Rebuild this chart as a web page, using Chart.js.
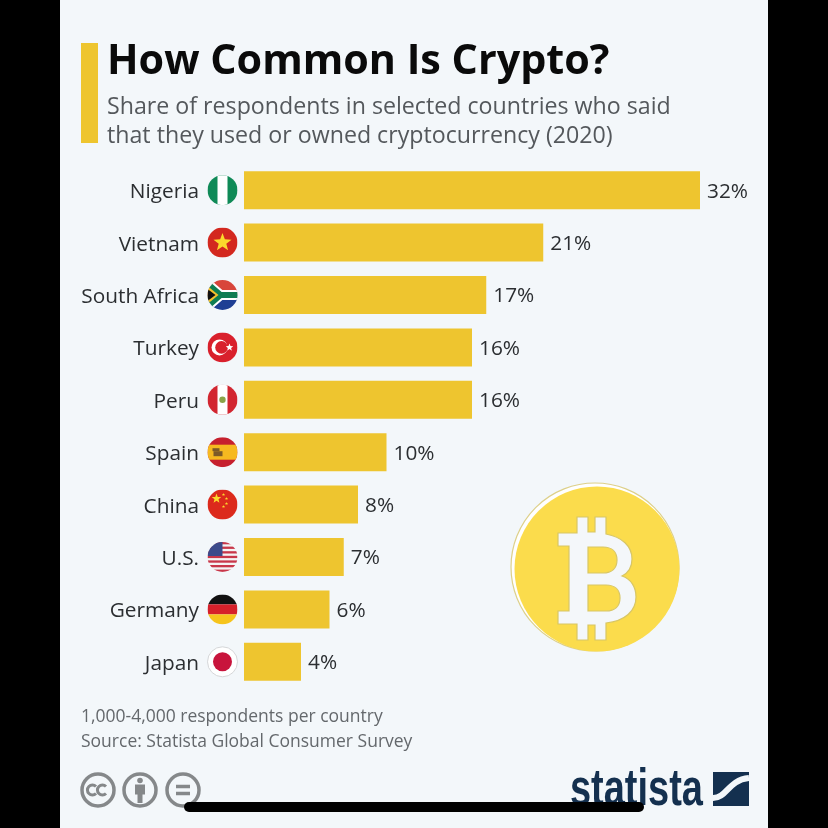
<!DOCTYPE html>
<html>
<head>
<meta charset="utf-8">
<title>How Common Is Crypto?</title>
<script src="https://cdn.jsdelivr.net/npm/chart.js@4"></script>
<style>
html, body { margin: 0; padding: 0; background: #000; }
body { width: 828px; height: 828px; position: relative; overflow: hidden; font-family: "Open Sans", sans-serif; }
#panel { position: absolute; left: 60px; top: 0; width: 708px; height: 828px; background: #f3f7fa; }
#myChart { position: absolute; left: 0; top: 0; }
.txt { position: absolute; white-space: nowrap; }
#accent { position: absolute; left: 81px; top: 43px; width: 17px; height: 100px; background: #eec52f; }
#title { left: 107px; top: 31px; font-size: 41.3px; font-weight: 700; color: #0a0a0a; line-height: 54px; }
#sub1, #sub2 { left: 107px; font-size: 23.2px; color: #54585c; line-height: 30px; }
#sub1 { top: 90px; }
#sub2 { top: 119px; }
#note, #source { left: 81px; font-size: 17.5px; color: #64686c; line-height: 24px; }
#note { top: 703px; }
#source { top: 728px; }
#logo { left: 570px; top: 759px; font-family: "Liberation Sans", sans-serif; font-size: 52px; font-weight: 700; color: #14304f; line-height: 56px; transform: scaleX(0.73); transform-origin: left center; }
svg { position: absolute; }
#homebar { position: absolute; left: 184px; top: 802px; width: 460px; height: 10px; border-radius: 5px; background: #000; }
</style>
</head>
<body>
<div id="panel"></div>
<canvas id="myChart" width="828" height="828"></canvas>
<div id="accent"></div>
<div class="txt" id="title">How Common Is Crypto?</div>
<div class="txt" id="sub1">Share of respondents in selected countries who said</div>
<div class="txt" id="sub2">that they used or owned cryptocurrency (2020)</div>
<div class="txt" id="note">1,000-4,000 respondents per country</div>
<div class="txt" id="source">Source: Statista Global Consumer Survey</div>

<!-- bitcoin coin -->
<svg style="left:500px;top:475px" width="190" height="190" viewBox="0 0 190 190">
  <circle cx="95" cy="92" r="84" fill="#ffffff" stroke="#ddd08a" stroke-width="1.2"/>
  <circle cx="97" cy="94" r="82.5" fill="#fbdc4c"/>
  <path fill="#f4f7fa" stroke="#d8c665" stroke-width="1.2" fill-rule="evenodd"
    d="M 77 58 V 42 H 88 V 57 H 95 V 42 H 106 V 59 C 122 62 132 71 132 84 C 132 92 128 98 122 101 C 131 104 136 112 136 122 C 136 136 125 146 106 148 V 165 H 95 V 150 H 88 V 165 H 77 V 149 H 58 V 136 H 69 V 71 H 58 V 58 Z
       M 88 72 V 98 H 103 C 112 98 117 93 117 85 C 117 77 112 72 103 72 Z
       M 88 110 V 136 H 106 C 115 136 120 131 120 123 C 120 115 115 110 106 110 Z"/>
</svg>

<!-- licence icons -->
<svg style="left:78px;top:770px" width="128" height="42" viewBox="0 0 128 42" fill="none" stroke="#85888a">
  <circle cx="20" cy="20" r="16" stroke-width="3.5"/>
  <path d="M 18 16.5 A 5 5 0 1 0 18 23.5 M 28 16.5 A 5 5 0 1 0 28 23.5" stroke-width="3"/>
  <circle cx="62" cy="20" r="16" stroke-width="3.5"/>
  <circle cx="62" cy="10.5" r="2.8" fill="#85888a" stroke="none"/>
  <rect x="57" y="14.5" width="10" height="10" fill="#85888a" stroke="none"/>
  <rect x="59.5" y="24" width="5" height="9" fill="#85888a" stroke="none"/>
  <circle cx="105" cy="20" r="16" stroke-width="3.5"/>
  <path d="M 98 16.5 H 112 M 98 23.5 H 112" stroke-width="3.5"/>
</svg>

<div class="txt" id="logo">statista</div>
<svg style="left:713px;top:772px" width="36" height="34" viewBox="0 0 36 34">
  <rect width="36" height="34" fill="#14304f"/>
  <path d="M 0 26 C 14 26 15 8 36 6" fill="none" stroke="#f3f7fa" stroke-width="6"/>
</svg>

<div id="homebar"></div>

<script>
var categories = ["Nigeria", "Vietnam", "South Africa", "Turkey", "Peru", "Spain", "China", "U.S.", "Germany", "Japan"];
var shares = [32, 21, 17, 16, 16, 10, 8, 7, 6, 4];
var flagCodes = ["ng", "vn", "za", "tr", "pe", "es", "cn", "us", "de", "jp"];

function star(ctx, x, y, r, color) {
    ctx.fillStyle = color;
    ctx.beginPath();
    for (var i = 0; i < 10; i++) {
        var a = -Math.PI / 2 + i * Math.PI / 5;
        var q = i % 2 ? r * 0.42 : r;
        ctx.lineTo(x + q * Math.cos(a), y + q * Math.sin(a));
    }
    ctx.closePath();
    ctx.fill();
}

// flags are drawn in a 30x30 box, 0,0 is the centre
function drawFlag(ctx, code) {
    var b = function (color, x, y, w, h) { ctx.fillStyle = color; ctx.fillRect(x, y, w, h); };
    if (code == "ng") {
        b("#0f8a57", -15, -15, 30, 30);
        b("#ffffff", -5, -15, 10, 30);
    } else if (code == "vn") {
        b("#d3281f", -15, -15, 30, 30);
        star(ctx, 0, 0, 9.5, "#fbd92c");
    } else if (code == "za") {
        b("#d8453b", -15, -15, 30, 15);
        b("#1e3f94", -15, 0, 30, 15);
        ctx.strokeStyle = "#ffffff";
        ctx.lineWidth = 10;
        ctx.beginPath(); ctx.moveTo(-17, -13); ctx.lineTo(-2, 0); ctx.lineTo(-17, 13); ctx.moveTo(-2, 0); ctx.lineTo(16, 0); ctx.stroke();
        ctx.strokeStyle = "#0f7d52";
        ctx.lineWidth = 6;
        ctx.stroke();
        ctx.fillStyle = "#f4c22e";
        ctx.beginPath(); ctx.moveTo(-15, -9); ctx.lineTo(-4, 0); ctx.lineTo(-15, 9); ctx.fill();
        ctx.fillStyle = "#111111";
        ctx.beginPath(); ctx.moveTo(-15, -6); ctx.lineTo(-7, 0); ctx.lineTo(-15, 6); ctx.fill();
    } else if (code == "tr") {
        b("#d9202c", -15, -15, 30, 30);
        ctx.fillStyle = "#ffffff";
        ctx.beginPath(); ctx.arc(-3, 0, 8, 0, Math.PI * 2); ctx.fill();
        ctx.fillStyle = "#d9202c";
        ctx.beginPath(); ctx.arc(-1, 0, 6.3, 0, Math.PI * 2); ctx.fill();
        star(ctx, 7, 0, 4, "#ffffff");
    } else if (code == "pe") {
        b("#d22630", -15, -15, 30, 30);
        b("#ffffff", -5, -15, 10, 30);
        ctx.fillStyle = "#8aa348";
        ctx.beginPath(); ctx.arc(0, 0, 3.2, 0, Math.PI * 2); ctx.fill();
    } else if (code == "es") {
        b("#c6202e", -15, -15, 30, 30);
        b("#f6b920", -15, -7.5, 30, 15);
        b("#7d5a28", -10, -4, 7, 3);
        b("#7d5a28", -9, -1, 9, 5);
    } else if (code == "cn") {
        b("#dc2a1c", -15, -15, 30, 30);
        star(ctx, -6, -6, 5, "#fbd92c");
        star(ctx, 1, -10, 1.7, "#fbd92c");
        star(ctx, 4, -6, 1.7, "#fbd92c");
        star(ctx, 4, -1, 1.7, "#fbd92c");
        star(ctx, 1, 2, 1.7, "#fbd92c");
    } else if (code == "us") {
        b("#f4f4f4", -15, -15, 30, 30);
        for (var i = 0; i < 7; i++) b("#c8374a", -15, -15 + i * 4.6, 30, 2.3);
        b("#3c4a8a", -15, -15, 15, 14);
    } else if (code == "de") {
        b("#111111", -15, -15, 30, 10);
        b("#d6202a", -15, -5, 30, 10);
        b("#f6c41c", -15, 5, 30, 10);
    } else if (code == "jp") {
        b("#ffffff", -15, -15, 30, 30);
        ctx.fillStyle = "#c8143c";
        ctx.beginPath(); ctx.arc(0, 0, 9.5, 0, Math.PI * 2); ctx.fill();
    }
}

// value labels and flags sit on the library's scales
var extras = {
    id: "extras",
    afterDatasetsDraw: function (chart) {
        var ctx = chart.ctx;
        var x = chart.scales.x, y = chart.scales.y;
        ctx.save();
        ctx.font = "20.8px 'Open Sans'";
        ctx.fillStyle = "#2b2e31";
        ctx.textBaseline = "middle";
        ctx.textAlign = "left";
        shares.forEach(function (v, i) {
            ctx.fillText(v + "%", x.getPixelForValue(v) + 7, y.getPixelForValue(i) + 1.5);
        });
        flagCodes.forEach(function (code, i) {
            var cy = y.getPixelForValue(i);
            ctx.save();
            ctx.translate(222.5, cy);
            ctx.beginPath();
            ctx.arc(0, 0, 15, 0, Math.PI * 2);
            ctx.clip();
            drawFlag(ctx, code);
            ctx.restore();
            if (code == "jp") {
                ctx.strokeStyle = "#d4d6d8";
                ctx.lineWidth = 1;
                ctx.beginPath();
                ctx.arc(222.5, cy, 15, 0, Math.PI * 2);
                ctx.stroke();
            }
        });
        ctx.restore();
    }
};

var ctx = document.getElementById("myChart").getContext("2d");
var myChart = new Chart(ctx, {
    type: "bar",
    plugins: [extras],
    data: {
        labels: categories,
        datasets: [{
            data: shares,
            backgroundColor: "#eec52f",
            borderWidth: 0,
            barPercentage: 0.725,
            categoryPercentage: 1
        }]
    },
    options: {
        indexAxis: "y",
        responsive: false,
        animation: false,
        layout: { padding: { top: 164, bottom: 140, left: 0, right: 14 } },
        plugins: { legend: { display: false }, tooltip: { enabled: false } },
        scales: {
            x: { display: false, min: 0, max: 40 },
            y: {
                afterFit: function (scale) { scale.width = 244; },
                grid: { display: false, drawTicks: false },
                border: { display: false },
                ticks: {
                    padding: 45,
                    labelOffset: 2,
                    color: "#2b2e31",
                    font: { family: "'Open Sans'", size: 20.8 }
                }
            }
        }
    }
});
</script>
</body>
</html>
